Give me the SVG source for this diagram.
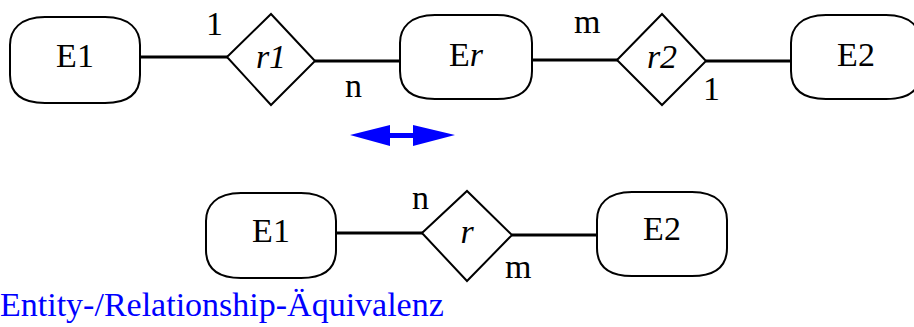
<svg xmlns="http://www.w3.org/2000/svg" width="914" height="327" viewBox="0 0 914 327">
<style>
.ent{fill:#fff;stroke:#000;stroke-width:2}
.rel{fill:#fff;stroke:#000;stroke-width:2;stroke-linejoin:miter}
.con{stroke:#000;stroke-width:3;fill:none}
.t{font-size:34px;fill:#000}
.c{text-anchor:middle}
.i{font-style:italic}
</style>
<rect width="914" height="327" fill="#fff"/>
<g id="connectors">
<line class="con" x1="140" y1="57" x2="228" y2="57"/>
<line class="con" x1="315" y1="61" x2="401" y2="61"/>
<line class="con" x1="531" y1="60" x2="618" y2="60"/>
<line class="con" x1="706" y1="61" x2="792" y2="61"/>
<line class="con" x1="336" y1="233" x2="423" y2="233"/>
<line class="con" x1="512" y1="235" x2="598" y2="235"/>
</g>
<g font-family="Liberation Serif, Times New Roman, serif">
<g id="E1_top"><path class="ent" d="M45,17 H105 C130,17 140,30 140,45 V75 C140,92 130,103 105,103 H45 C20,103 10,92 10,75 V45 C10,30 20,17 45,17 Z"/><text class="t c" x="75" y="67">E1</text></g>
<g id="r1"><polygon class="rel" points="227,57 271,14 315,61 271,105"/><text class="t c i" x="271" y="68">r1</text></g>
<g id="Er"><path class="ent" d="M435,15 H497 C522,15 532,28 532,43 V71 C532,88 522,99 497,99 H435 C410,99 400,88 400,71 V43 C400,28 410,15 435,15 Z"/><text class="t c" x="466" y="66">E<tspan class="i">r</tspan></text></g>
<g id="r2"><polygon class="rel" points="617,60 662,14 706,61 662,105"/><text class="t c i" x="662" y="68">r2</text></g>
<g id="E2_top"><path class="ent" d="M826,15 H886 C911,15 921,28 921,43 V71 C921,88 911,99 886,99 H826 C801,99 791,88 791,71 V43 C791,28 801,15 826,15 Z"/><text class="t c" x="856" y="66">E2</text></g>
<g id="E1_bot"><path class="ent" d="M241,193 H301 C326,193 336,206 336,221 V250 C336,267 326,278 301,278 H241 C216,278 206,267 206,250 V221 C206,206 216,193 241,193 Z"/><text class="t c" x="271" y="242">E1</text></g>
<g id="r"><polygon class="rel" points="422,233 467,191 512,235 467,281"/><text class="t c i" x="467" y="243">r</text></g>
<g id="E2_bot"><path class="ent" d="M632,192 H692 C717,192 727,205 727,220 V248 C727,265 717,276 692,276 H632 C607,276 597,265 597,248 V220 C597,205 607,192 632,192 Z"/><text class="t c" x="662" y="240">E2</text></g>
<g id="labels">
<text class="t" x="206" y="35">1</text>
<text class="t" x="345" y="97">n</text>
<text class="t" x="574" y="33">m</text>
<text class="t" x="703" y="100">1</text>
<text class="t" x="412" y="209">n</text>
<text class="t" x="505" y="278">m</text>
</g>
<text x="0" y="316" fill="#0000ff" font-size="34">Entity-/Relationship-Äquivalenz</text>
</g>
<g id="arrow"><polygon fill="#0000ff" points="350,135 390,125 390,133 413,133 413,125 455,135 413,146 413,138 390,138 390,146"/></g>
</svg>
